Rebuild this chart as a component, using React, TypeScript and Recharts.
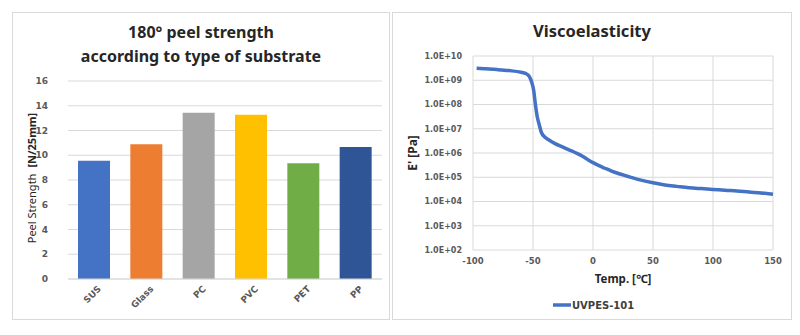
import React from "react";
import { BarChart, Bar, Cell, XAxis, YAxis, CartesianGrid, LineChart, Line } from "recharts";

const substrates = ["SUS", "Glass", "PC", "PVC", "PET", "PP"];
const peelStrength = [9.55, 10.88, 13.44, 13.28, 9.35, 10.67];
const barColors = ["#4472C4", "#ED7D31", "#A5A5A5", "#FFC000", "#70AD47", "#2F5597"];
const peelTicks = [0, 2, 4, 6, 8, 10, 12, 14, 16];

const temps = [-97, -90, -80, -70, -60, -56, -53, -51, -49.5, -48, -46.5, -45, -43, -40, -37, -32, -25, -20, -15, -10, -5, 0, 5, 10, 15, 20, 25, 30, 40, 50, 60, 70, 80, 90, 100, 110, 120, 130, 140, 150];
const storageModulus = [3.1e9, 2.95e9, 2.75e9, 2.5e9, 2.15e9, 1.9e9, 1.4e9, 8.0e8, 4.0e8, 1.0e8, 3.2e7, 1.6e7, 7.0e6, 4.5e6, 3.5e6, 2.5e6, 1.75e6, 1.35e6, 1.05e6, 8.0e5, 5.6e5, 4.0e5, 3.0e5, 2.35e5, 1.85e5, 1.5e5, 1.25e5, 1.05e5, 7.6e4, 5.9e4, 4.8e4, 4.2e4, 3.7e4, 3.4e4, 3.15e4, 2.9e4, 2.7e4, 2.45e4, 2.25e4, 2.0e4];
const tempTicks = [-100, -50, 0, 50, 100, 150];
const modulusTicks = [1e2, 1e3, 1e4, 1e5, 1e6, 1e7, 1e8, 1e9, 1e10];
const seriesName = "UVPES-101";

const barData = substrates.map((s, i) => ({ name: s, value: peelStrength[i] }));
const lineData = temps.map((t, i) => ({ temp: t, e: storageModulus[i] }));

const tickFont = "'DejaVu Sans', Verdana, sans-serif";
const titleFont = "'Noto Sans', 'Open Sans', sans-serif";
const gridColor = "#D9D9D9";
const tickColor = "#595959";

const fmtE = (v: number) => {
  const p = Math.round(Math.log10(v));
  return `1.0E+${String(p).padStart(2, "0")}`;
};

const panelStyle = (left: number, w: number): React.CSSProperties => ({
  position: "absolute",
  left,
  top: 12,
  width: w,
  height: 308,
  background: "#fff",
});

const borderStyle = (w: number): React.CSSProperties => ({
  position: "absolute",
  left: 0,
  top: 0,
  width: w - 2,
  height: 306,
  border: "1px solid #D9D9D9",
  pointerEvents: "none",
});

export default function App() {
  return (
    <div style={{ position: "absolute", left: 0, top: 0, width: 800, height: 335, background: "#fff" }}>
      {/* Left panel */}
      <div style={panelStyle(12, 378)}>
        <BarChart width={378} height={308} data={barData} margin={{ top: 69, right: 8, left: 0, bottom: 0 }}>
          <CartesianGrid vertical={false} stroke={gridColor} />
          <XAxis
            dataKey="name"
            height={41}
            tickLine={false}
            axisLine={{ stroke: gridColor }}
            interval={0}
            tickSize={0}
            tickMargin={6}
            angle={-45}
            tick={{ fontFamily: tickFont, fontWeight: "bold", fontSize: 9, fill: tickColor, textAnchor: "end", dx: 3 }}
          />
          <YAxis
            width={56}
            domain={[0, 16]}
            ticks={peelTicks}
            tickSize={0}
            tickMargin={20}
            axisLine={false}
            tickLine={false}
            tick={{ fontFamily: tickFont, fontWeight: "bold", fontSize: 9, fill: tickColor }}
          />
          <Bar dataKey="value" barSize={32} isAnimationActive={false}>
            {barData.map((d, i) => (
              <Cell key={d.name} fill={barColors[i]} />
            ))}
          </Bar>
        </BarChart>
        <svg width={378} height={308} style={{ position: "absolute", left: 0, top: 0, pointerEvents: "none" }}>
          <text x={189} y={26} textAnchor="middle" fontFamily={titleFont} fontWeight="bold" fontSize={16} fill="#262626">
            180° peel strength
          </text>
          <text x={189} y={49.5} textAnchor="middle" fontFamily={titleFont} fontWeight="bold" fontSize={16} fill="#262626">
            according to type of substrate
          </text>
          <text transform="translate(24,166) rotate(-90)" textAnchor="middle" fontFamily={titleFont} fontSize={11} fill="#262626">
            <tspan>Peel Strength</tspan>
            <tspan fontWeight="bold" dx={6}>[N/25mm]</tspan>
          </text>
        </svg>
        <div style={borderStyle(378)} />
      </div>

      {/* Right panel */}
      <div style={panelStyle(392, 400)}>
        <LineChart width={400} height={308} data={lineData} margin={{ top: 44, right: 19, left: 0, bottom: 0 }}>
          <CartesianGrid stroke={gridColor} />
          <XAxis
            dataKey="temp"
            type="number"
            domain={[-100, 150]}
            ticks={tempTicks}
            height={70}
            tickSize={0}
            tickMargin={8}
            axisLine={false}
            tickLine={false}
            tick={{ fontFamily: tickFont, fontWeight: "bold", fontSize: 8.5, fill: tickColor }}
          />
          <YAxis
            type="number"
            scale="log"
            domain={[1e2, 1e10]}
            ticks={modulusTicks}
            allowDataOverflow
            width={81}
            tickSize={0}
            tickMargin={11}
            axisLine={false}
            tickLine={false}
            tickFormatter={fmtE}
            tick={{ fontFamily: tickFont, fontWeight: "bold", fontSize: 8, fill: tickColor }}
          />
          <Line dataKey="e" type="monotone" stroke="#4472C4" strokeWidth={3.5} dot={false} isAnimationActive={false} name={seriesName} />
        </LineChart>
        <svg width={400} height={308} style={{ position: "absolute", left: 0, top: 0, pointerEvents: "none" }}>
          <text x={200} y={25} textAnchor="middle" fontFamily={titleFont} fontWeight="bold" fontSize={16.5} fill="#262626">
            Viscoelasticity
          </text>
          <text transform="translate(25,141) rotate(-90)" textAnchor="middle" fontFamily={titleFont} fontWeight="bold" fontSize={12} fill="#262626">
            E' [Pa]
          </text>
          <text x={231} y={271} textAnchor="middle" fontFamily={titleFont} fontWeight="bold" fontSize={11.5} fill="#262626">
            Temp. [℃]
          </text>
          <line x1={161} y1={293} x2={179} y2={293} stroke="#4472C4" strokeWidth={3.5} />
          <text x={180} y={297} fontFamily={tickFont} fontWeight="bold" fontSize={10} fill="#404040">
            {seriesName}
          </text>
        </svg>
        <div style={borderStyle(400)} />
      </div>
    </div>
  );
}
